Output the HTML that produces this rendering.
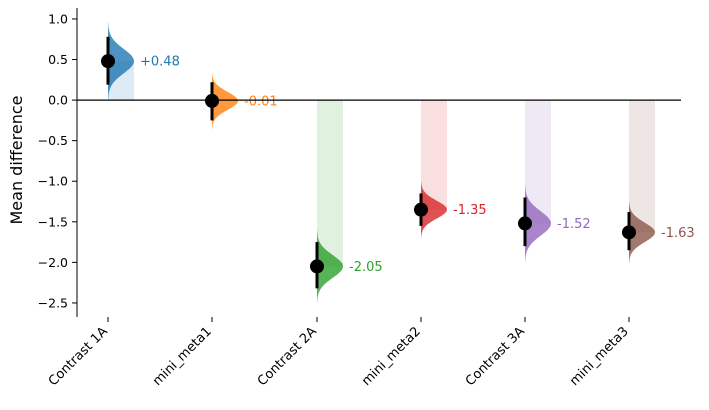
<!DOCTYPE html>
<html><head><meta charset="utf-8"><style>body{margin:0;background:#fff}svg{font-family:"DejaVu Sans","Liberation Sans",sans-serif}</style></head>
<body>
<svg id="s" width="709" height="405" xmlns="http://www.w3.org/2000/svg">
<text x="22" y="160" font-size="16" text-anchor="middle" transform="rotate(-90 22 160)">Mean difference</text>
<line x1="77" y1="8" x2="77" y2="317" stroke="#000" stroke-width="1"/>
<g id="g"></g>
<line x1="77" y1="100.1" x2="681" y2="100.1" stroke="#000" stroke-width="1.2"/>
</svg>
<script>
const s=document.getElementById('g');const NS='http://www.w3.org/2000/svg';
function el(t,a,txt){const e=document.createElementNS(NS,t);for(const k in a)e.setAttribute(k,a[k]);if(txt!=null)e.textContent=txt;s.appendChild(e);return e;}
const yp=v=>100.1-v*81.14;
[1,0.5,0,-0.5,-1,-1.5,-2,-2.5].forEach(v=>{const y=yp(v);el('line',{x1:72,x2:77,y1:y,y2:y,stroke:'#000'});el('text',{x:68,y:y+4.5,'font-size':12.5,'text-anchor':'end'},v.toFixed(1).replace('-','−'));});
const G=[[108,0.48,'#1f77b4',0.19,0.78,0.15,'+0.48','Contrast 1A'],[212,-0.01,'#ff7f0e',-0.25,0.22,0.11,'-0.01','mini_meta1'],[317,-2.05,'#2ca02c',-2.32,-1.75,0.14,'-2.05','Contrast 2A'],[421,-1.35,'#d62728',-1.55,-1.15,0.11,'-1.35','mini_meta2'],[525,-1.52,'#9467bd',-1.8,-1.2,0.15,'-1.52','Contrast 3A'],[629,-1.63,'#8c564b',-1.85,-1.38,0.12,'-1.63','mini_meta3']];
G.forEach(([x,m,c,lo,hi,sd,lab,t])=>{
 el('rect',{x:x,y:Math.min(yp(0),yp(m)),width:26,height:Math.abs(yp(m)-yp(0)),fill:c,opacity:0.15});
 let d='M'+x+','+yp(m+3.2*sd);
 for(let i=0;i<=80;i++){const v=m+3.2*sd-i*6.4*sd/80;const w=26*Math.exp(-0.5*((v-m)/sd)**2);d+=' L'+(x+w).toFixed(2)+','+yp(v).toFixed(2);}
 d+=' L'+x+','+yp(m-3.2*sd)+'Z';
 el('path',{d:d,fill:c,opacity:0.8});
 el('line',{x1:x,x2:x,y1:yp(lo),y2:yp(hi),stroke:'#000','stroke-width':3});
 el('circle',{cx:x,cy:yp(m),r:7,fill:'#000'});
 el('text',{x:x+32,y:yp(m)+4.5,'font-size':13,fill:c},lab);
 el('line',{x1:x,x2:x,y1:317,y2:322,stroke:'#000'});
 el('text',{x:x,y:332,'font-size':13,'text-anchor':'end',transform:`rotate(-45 ${x} 332)`},t);
});
</script>
</body></html>
